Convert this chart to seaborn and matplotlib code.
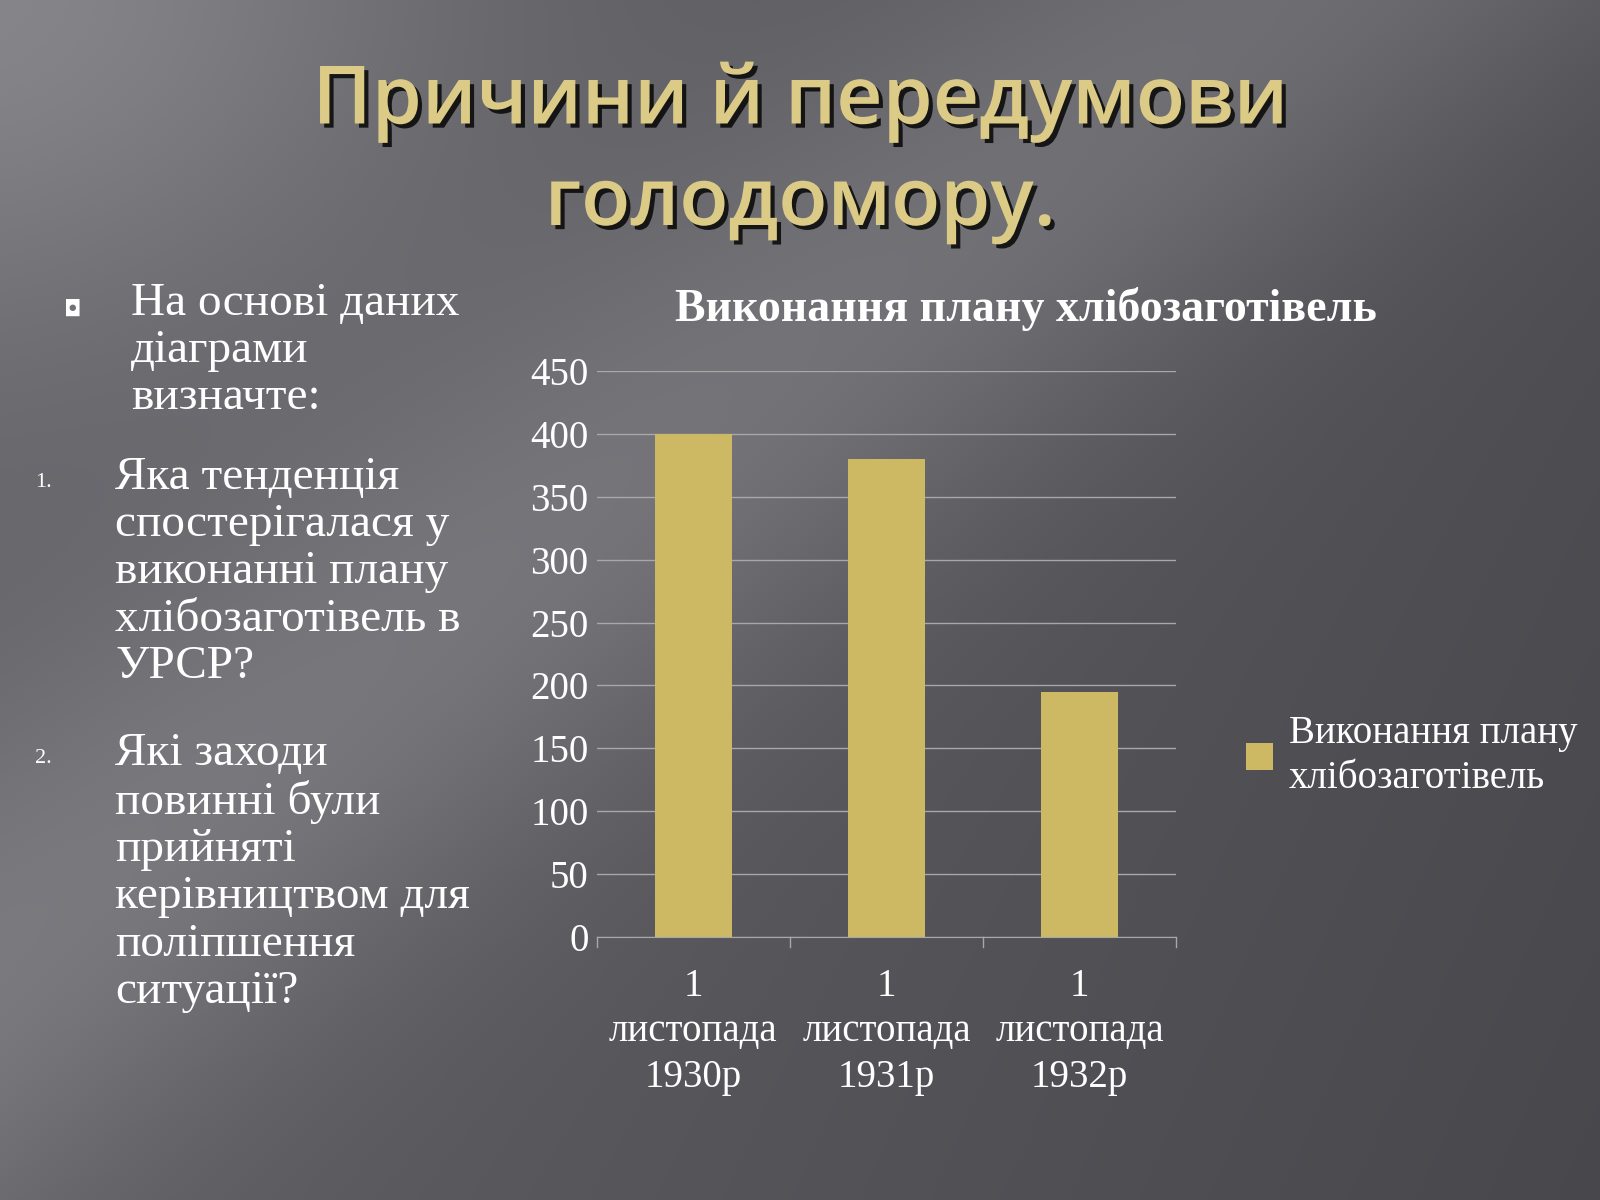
import numpy as np
import pandas as pd
import matplotlib
matplotlib.use("Agg")
import matplotlib.pyplot as plt
import matplotlib.patheffects as pe
import seaborn as sns

categories = ["1\nлистопада\n1930р", "1\nлистопада\n1931р", "1\nлистопада\n1932р"]
values = [400, 380, 195]
series_name = "Виконання плану хлібозаготівель"
yticks = [0, 50, 100, 150, 200, 250, 300, 350, 400, 450]

BAR = "#cdb964"
SERIF = "Liberation Serif"

fig = plt.figure(figsize=(16, 12), dpi=100)

# slide background: dark grey with a soft light diagonal streak
bg = fig.add_axes([0, 0, 1, 1])
yy, xx = np.mgrid[0:1:300j, 0:1:400j]
d = (xx - (1 - yy)) * 0.75 + 0.1
base = 0.40 - 0.09 * xx - 0.03 * yy
streak = 0.10 * np.exp(-((d + 0.05) / 0.18) ** 2)
corner = 0.12 * np.exp(-((xx ** 2 + yy ** 2) / 0.08))
g = base + streak + corner
img = np.clip(np.dstack([g, g, g + 0.02]), 0, 1)
bg.imshow(img, extent=[0, 1, 0, 1], aspect="auto")
bg.axis("off")

shadow = [pe.withSimplePatchShadow(offset=(3, -3), shadow_rgbFace="black", alpha=0.8)]
fig.text(0.50, 0.915, "Причини й передумови", ha="center", va="center", fontweight="semibold",
         fontsize=58, family="Open Sans", color="#dccb86", path_effects=shadow)
fig.text(0.50, 0.83, "голодомору.", ha="center", va="center", fontweight="semibold",
         fontsize=58, family="Open Sans", color="#dccb86", path_effects=shadow)

# left text
fig.text(0.040, 0.742, "◘", fontsize=16, color="white", va="center")
fig.text(0.082, 0.765, "На основі даних\nдіаграми\nвизначте:", fontsize=34, family=SERIF,
         color="white", va="top", linespacing=1.15)
fig.text(0.022, 0.598, "1.", fontsize=16, family=SERIF, color="white", va="center")
fig.text(0.072, 0.620, "Яка тенденція\nспостерігалася у\nвиконанні плану\nхлібозаготівель в\nУРСР?",
         fontsize=34, family=SERIF, color="white", va="top", linespacing=1.15)
fig.text(0.022, 0.368, "2.", fontsize=16, family=SERIF, color="white", va="center")
fig.text(0.072, 0.390, "Які заходи\nповинні були\nприйняті\nкерівництвом для\nполіпшення\nситуації?",
         fontsize=34, family=SERIF, color="white", va="top", linespacing=1.15)

# chart
df = pd.DataFrame({"cat": categories, "val": values})
ax = fig.add_axes([0.373, 0.219, 0.362, 0.472])
ax.set_facecolor("none")
sns.barplot(data=df, x="cat", y="val", color=BAR, width=0.4, saturation=1, ax=ax,
            label=series_name)
ax.set_ylim(0, 450)
ax.set_yticks(yticks)
ax.set_xlim(-0.5, 2.5)
ax.grid(axis="y", color="#a8a8a8", linewidth=1)
ax.set_axisbelow(True)
for s in ["top", "right", "left"]:
    ax.spines[s].set_visible(False)
ax.spines["bottom"].set_color("#a8a8a8")
ax.set_xlabel("")
ax.set_ylabel("")
ax.tick_params(axis="y", length=0, labelsize=28, labelcolor="white", pad=6)
ax.tick_params(axis="x", length=0, labelsize=28, labelcolor="white", pad=22)
for t in ax.get_xticklabels() + ax.get_yticklabels():
    t.set_family(SERIF)
for t in ax.get_xticklabels():
    t.set_linespacing(1.3)
for xv in [-0.5, 0.5, 1.5, 2.5]:
    ax.plot([xv, xv], [0, -8], color="#a8a8a8", lw=1, clip_on=False)
ax.set_title(series_name, fontsize=33, family=SERIF, fontweight="bold",
             color="white", pad=36, x=0.74)

leg = ax.legend(loc="center left", bbox_to_anchor=(1.06, 0.32), frameon=False,
                handlelength=0.7, handleheight=0.7, handletextpad=0.4,
                prop={"family": SERIF, "size": 28})
leg.get_texts()[0].set_text("Виконання плану\nхлібозаготівель")
for t in leg.get_texts():
    t.set_color("white")
    t.set_linespacing(1.3)

fig.savefig("out.png", dpi=100)
